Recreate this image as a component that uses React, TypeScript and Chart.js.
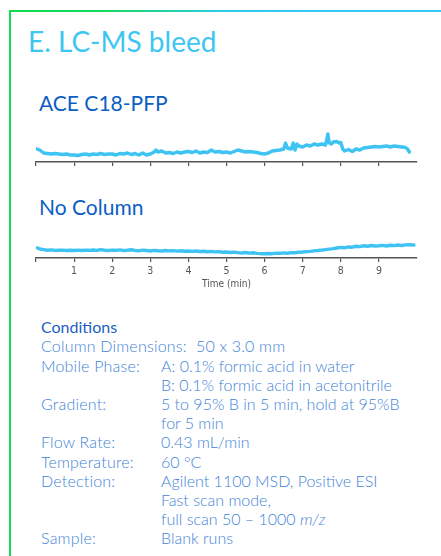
import React, { useEffect, useRef } from 'react';
import { Chart, registerables } from 'chart.js';

Chart.register(...registerables);

// Time axis (min)
const TICK_VALUES = [0, 1, 2, 3, 4, 5, 6, 7, 8, 9];
const TICK_LABELS = ['', '1', '2', '3', '4', '5', '6', '7', '8', '9'];
const X_MIN = 0;
const X_MAX = 10;
const X_TITLE = 'Time (min)';

// ACE C18-PFP trace
const aceTimes = [
  0.02, 0.1, 0.2, 0.3, 0.4, 0.5, 0.6, 0.7, 0.8, 0.9,
  1.0, 1.1, 1.2, 1.3, 1.4, 1.5, 1.6, 1.7, 1.8, 1.9,
  2.0, 2.1, 2.2, 2.3, 2.4, 2.5, 2.6, 2.7, 2.8, 2.9,
  3.0, 3.1, 3.15, 3.2, 3.3, 3.4, 3.5, 3.6, 3.7, 3.8, 3.9,
  4.0, 4.1, 4.2, 4.3, 4.4, 4.5, 4.6, 4.7, 4.8, 4.9,
  5.0, 5.1, 5.2, 5.3, 5.4, 5.5, 5.6, 5.7, 5.8, 5.9,
  6.0, 6.1, 6.2, 6.3, 6.4, 6.5, 6.55, 6.6, 6.7, 6.75, 6.8, 6.85, 6.9,
  7.0, 7.1, 7.2, 7.3, 7.4, 7.5, 7.6, 7.66, 7.7, 7.75, 7.8, 7.9, 7.95,
  8.0, 8.05, 8.1, 8.2, 8.3, 8.4, 8.5, 8.6, 8.7, 8.8, 8.9,
  9.0, 9.1, 9.2, 9.3, 9.4, 9.5, 9.6, 9.7, 9.75, 9.8,
];
const aceSignal = [
  13, 12, 9, 8.5, 8, 8.5, 8, 7.5, 8, 7,
  7, 6.5, 7.5, 8, 7, 8, 7.5, 8.5, 7.5, 8,
  8, 7, 8.5, 8, 9, 7.5, 8.5, 7, 9, 7,
  8, 10, 12, 10, 11, 9, 9.5, 8.5, 10, 9, 10,
  10.5, 9.5, 11, 9, 10, 9.5, 12, 10, 10.5, 9.5,
  10, 9, 10.5, 12, 11, 10, 10.5, 10, 9.5, 8.5,
  8, 9, 11, 11.5, 12, 13, 19, 14, 13, 19, 12, 18, 16,
  15, 17, 16, 18, 17, 18, 17, 28, 19, 18, 20, 20.5, 19,
  19.5, 13, 11, 12.5, 10.5, 13, 12, 14, 14.5, 15, 15.5,
  15, 15.5, 16, 15, 16, 15.5, 15, 14.5, 13, 10,
];

// No Column trace
const noColTimes = [
  0.03, 0.1, 0.2, 0.3, 0.4, 0.5, 0.6, 0.7, 0.8, 0.9,
  1.0, 1.1, 1.2, 1.3, 1.4, 1.5, 1.6, 1.7, 1.8, 1.9,
  2.0, 2.1, 2.2, 2.3, 2.4, 2.5, 2.6, 2.7, 2.8, 2.9,
  3.0, 3.1, 3.2, 3.3, 3.4, 3.5, 3.6, 3.7, 3.8, 3.9,
  4.0, 4.1, 4.2, 4.3, 4.4, 4.5, 4.6, 4.7, 4.8, 4.9,
  5.0, 5.1, 5.2, 5.3, 5.4, 5.5, 5.6, 5.7, 5.8, 5.9,
  6.0, 6.1, 6.2, 6.3, 6.4, 6.5, 6.6, 6.7, 6.8, 6.9,
  7.0, 7.1, 7.2, 7.3, 7.4, 7.5, 7.6, 7.7, 7.8, 7.9,
  8.0, 8.1, 8.2, 8.3, 8.4, 8.5, 8.6, 8.7, 8.8, 8.9,
  9.0, 9.1, 9.2, 9.3, 9.4, 9.5, 9.6, 9.7, 9.8, 9.92,
];
const noColSignal = [
  8.5, 7.5, 7, 6.5, 6.8, 6.3, 6.5, 6.6, 6.2, 6.5,
  6.3, 6.6, 6.2, 6.5, 6.4, 6.7, 6.3, 7, 6.5, 6.2,
  6.6, 6.4, 6.8, 6.2, 6.5, 6.9, 6.3, 6, 6.6, 6.2,
  5.8, 6.3, 6, 5.8, 6.2, 5.9, 6.1, 5.7, 6, 5.6,
  5.8, 5.5, 5.8, 5.4, 5.6, 5.2, 5.5, 5.1, 5.3, 4.8,
  5, 4.6, 4.9, 4.5, 4.2, 4.6, 4.1, 4.4, 3.9, 3.6,
  3.5, 3.8, 3.6, 4.1, 3.9, 4.3, 4, 4.5, 4.4, 4.8,
  5, 5.3, 5.5, 5.9, 6.2, 6.6, 7, 7.4, 7.8, 8.3,
  8.8, 8.5, 9.2, 9, 9.8, 9.5, 10.2, 9.8, 10.4, 10,
  10.2, 10.5, 10, 10.6, 10.3, 10.8, 10.4, 10.9, 11, 10.8,
];

const TRACE_COLOR = '#3ec3f3';
const AXIS_COLOR = '#555555';
const TEXT_FONT = 'Lato, "Noto Sans", sans-serif';
const AXIS_FONT = '"DejaVu Sans Condensed", "Liberation Sans Narrow", "Roboto", sans-serif';

function Trace({ times, values, showLabels, left, top, width, height }: any) {
  const ref = useRef<HTMLCanvasElement | null>(null);
  useEffect(() => {
    if (!ref.current) return;
    const chart = new Chart(ref.current, {
      type: 'line',
      data: {
        datasets: [
          {
            data: times.map((t: number, i: number) => ({ x: t, y: values[i] })),
            borderColor: TRACE_COLOR,
            borderWidth: 3.4,
            pointRadius: 0,
            tension: 0,
            borderJoinStyle: 'round',
            borderCapStyle: 'round',
            fill: false,
          },
        ],
      },
      options: {
        animation: false,
        responsive: false,
        maintainAspectRatio: false,
        layout: { padding: { left: 6, right: 8, top: 0, bottom: 0 } },
        plugins: { legend: { display: false }, tooltip: { enabled: false } },
        scales: {
          x: {
            type: 'linear',
            min: X_MIN,
            max: X_MAX,
            afterBuildTicks: (axis: any) => {
              axis.ticks = TICK_VALUES.map((v) => ({ value: v }));
            },
            grid: {
              display: true,
              drawOnChartArea: false,
              drawTicks: true,
              tickLength: 4,
              color: AXIS_COLOR,
              lineWidth: 1.2,
            },
            border: { display: true, color: AXIS_COLOR, width: 1.5 },
            ticks: {
              display: showLabels,
              autoSkip: false,
              maxRotation: 0,
              padding: 3,
              color: AXIS_COLOR,
              font: { family: AXIS_FONT, size: 10.5 },
              callback: (_v: any, i: number) => TICK_LABELS[i],
            },
            title: {
              display: showLabels,
              text: X_TITLE,
              color: AXIS_COLOR,
              font: { family: AXIS_FONT, size: 10 },
              padding: { top: 6, bottom: 4 },
            },
          },
          y: { display: false, min: 0, max: 30 },
        },
      },
    } as any);
    return () => chart.destroy();
  }, []);
  return (
    <canvas
      ref={ref}
      width={width}
      height={height}
      style={{ position: 'absolute', left, top, width, height }}
    />
  );
}

const condStyle: React.CSSProperties = {
  position: 'absolute',
  fontFamily: TEXT_FONT,
  fontSize: 16,
  lineHeight: '19.2px',
  fontWeight: 300,
  color: '#3f84d8',
  whiteSpace: 'nowrap',
};

const LABEL_X = 41;
const VALUE_X = 161;

const conditionRows: [string, React.ReactNode][] = [
  ['Mobile Phase:', 'A: 0.1% formic acid in water'],
  ['', 'B: 0.1% formic acid in acetonitrile'],
  ['Gradient:', '5 to 95% B in 5 min, hold at 95%B'],
  ['', 'for 5 min'],
  ['Flow Rate:', '0.43 mL/min'],
  ['Temperature:', '60 °C'],
  ['Detection:', 'Agilent 1100 MSD, Positive ESI'],
  ['', 'Fast scan mode,'],
  ['', <span>full scan 50 – 1000 <i>m/z</i></span>],
  ['Sample:', 'Blank runs'],
];

export default function App() {
  const rowTop0 = 317.2;
  const pitch = 19.2;
  return (
    <div
      style={{
        position: 'absolute',
        left: 0,
        top: 0,
        width: 441,
        height: 556,
        background: '#ffffff',
        overflow: 'hidden',
      }}
    >
      <div
        style={{
          position: 'absolute',
          left: 9,
          top: 10,
          width: 432,
          height: 2,
          background: 'linear-gradient(to right, #12d850 0%, #16d95c 22%, #2fcbe6 50%, #36c8f4 70%, #36c8f4 100%)',
        }}
      />
      <div style={{ position: 'absolute', left: 9, top: 10, width: 2, height: 546, background: '#14d856' }} />

      <div
        style={{
          position: 'absolute',
          left: 28,
          top: 26.5,
          fontFamily: TEXT_FONT,
          fontSize: 28,
          lineHeight: '28px',
          color: '#3ec6f3',
          whiteSpace: 'nowrap',
        }}
      >
        E. LC-MS bleed
      </div>

      <div
        style={{
          position: 'absolute',
          left: 39,
          top: 92.4,
          fontFamily: TEXT_FONT,
          fontSize: 21,
          lineHeight: '21px',
          color: '#0b5ec4',
          whiteSpace: 'nowrap',
        }}
      >
        ACE C18-PFP
      </div>

      <Trace times={aceTimes} values={aceSignal} showLabels={false} left={30} top={132} width={395} height={34} />

      <div
        style={{
          position: 'absolute',
          left: 39,
          top: 196.4,
          fontFamily: TEXT_FONT,
          fontSize: 21,
          lineHeight: '21px',
          color: '#0b5ec4',
          whiteSpace: 'nowrap',
        }}
      >
        No Column
      </div>

      <Trace times={noColTimes} values={noColSignal} showLabels={true} left={30} top={222} width={395} height={72} />

      <div style={{ ...condStyle, left: LABEL_X, top: rowTop0, fontWeight: 400, color: '#1d5fc2' }}>Conditions</div>
      <div style={{ ...condStyle, left: LABEL_X, top: rowTop0 + pitch, letterSpacing: 0.2 }}>
        Column Dimensions:&nbsp;&nbsp;50 x 3.0 mm
      </div>
      {conditionRows.map(([label, value], i) => (
        <React.Fragment key={i}>
          {label ? (
            <div style={{ ...condStyle, left: LABEL_X, top: rowTop0 + pitch * (i + 2), letterSpacing: 0.2 }}>{label}</div>
          ) : null}
          <div style={{ ...condStyle, left: VALUE_X, top: rowTop0 + pitch * (i + 2) }}>{value}</div>
        </React.Fragment>
      ))}
    </div>
  );
}
